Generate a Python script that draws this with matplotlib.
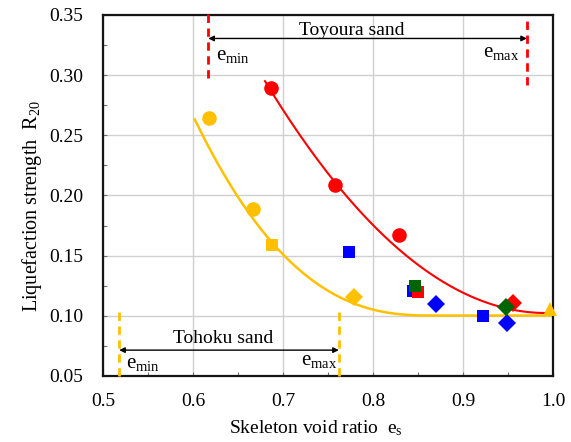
import numpy as np
import matplotlib
matplotlib.use("Agg")
import matplotlib.pyplot as plt
from matplotlib.ticker import MultipleLocator

plt.rcParams['font.family'] = ['Liberation Serif', 'DejaVu Serif']
plt.rcParams['mathtext.fontset'] = 'custom'
plt.rcParams['mathtext.rm'] = 'Liberation Serif'
plt.rcParams['mathtext.it'] = 'Liberation Serif:italic'

# ---------------- data ----------------
# Toyoura sand (red)
red_circle_e = [0.687, 0.758, 0.829]
red_circle_r = [0.289, 0.209, 0.167]
red_square_e = [0.850]
red_square_r = [0.120]
red_diamond_e = [0.956]
red_diamond_r = [0.111]
# green
green_square_e = [0.847]
green_square_r = [0.125]
green_diamond_e = [0.948]
green_diamond_r = [0.107]
# blue
blue_square_e = [0.773, 0.844, 0.922]
blue_square_r = [0.153, 0.121, 0.100]
blue_diamond_e = [0.870, 0.949]
blue_diamond_r = [0.110, 0.094]
# Tohoku sand (orange)
orange_circle_e = [0.618, 0.667]
orange_circle_r = [0.264, 0.189]
orange_square_e = [0.688]
orange_square_r = [0.159]
orange_diamond_e = [0.779]
orange_diamond_r = [0.116]
orange_triangle_e = [0.997]
orange_triangle_r = [0.106]

# trend curves
red_curve_e = [0.680, 0.733, 0.758, 0.808, 0.817, 0.863, 0.900, 0.938, 0.974, 1.000]
red_curve_r = [0.295, 0.236, 0.209, 0.171, 0.163, 0.136, 0.119, 0.107, 0.103, 0.103]
orange_curve_e = [0.602, 0.697, 0.708, 0.733, 0.752, 0.771, 0.800, 0.844, 0.900, 1.000]
orange_curve_r = [0.263, 0.155, 0.146, 0.127, 0.119, 0.112, 0.107, 0.102, 0.100, 0.099]

toyoura_emin, toyoura_emax = 0.617, 0.971
tohoku_emin, tohoku_emax = 0.518, 0.762

RED = '#FF0000'
ORANGE = '#FFC000'
BLUE = '#0000FF'
GREEN = '#006400'

fig = plt.figure(figsize=(5.71, 4.42), dpi=100)
ax = fig.add_axes([103/571, 1-376/442, 450/571, 361/442])

ax.set_xlim(0.5, 1.0)
ax.set_ylim(0.05, 0.35)
ax.xaxis.set_major_locator(MultipleLocator(0.1))
ax.xaxis.set_minor_locator(MultipleLocator(0.05))
ax.yaxis.set_major_locator(MultipleLocator(0.05))
ax.yaxis.set_minor_locator(MultipleLocator(0.025))
ax.xaxis.set_major_formatter(plt.FuncFormatter(lambda v, p: f"{v:.1f}"))
ax.yaxis.set_major_formatter(plt.FuncFormatter(lambda v, p: f"{v:.2f}"))
ax.grid(True, which='major', color='#d0d0d0', lw=1.0)
ax.set_axisbelow(True)
ax.tick_params(which='both', direction='in', colors='#707070', labelcolor='black',
               labelsize=14, length=3, width=0.8)
ax.tick_params(axis='x', which='major', pad=12.5)
ax.tick_params(axis='y', which='major', pad=14)
for s in ax.spines.values():
    s.set_linewidth(1.6)
    s.set_color('#151515')

# red trend: quadratic fit
ex = np.linspace(min(red_curve_e), 1.0, 200)
pr = np.polyfit(red_curve_e, red_curve_r, 2)
ax.plot(ex, np.polyval(pr, ex), color=RED, lw=1.5, zorder=2)

# orange trend: floor + power decay fit, parameters found by least squares
oe = np.asarray(orange_curve_e)
orr = np.asarray(orange_curve_r)
best = None
for e0 in np.linspace(0.80, 1.10, 61):
    for n in np.linspace(1.5, 5.0, 71):
        X = np.column_stack([np.ones_like(oe), np.clip(e0 - oe, 0, None) ** n])
        coef, *_ = np.linalg.lstsq(X, orr, rcond=None)
        err = np.sum((X @ coef - orr) ** 2)
        if best is None or err < best[0]:
            best = (err, e0, n, coef)
_, e0, n, coef = best
eo = np.linspace(min(orange_curve_e), 1.0, 300)
ax.plot(eo, coef[0] + coef[1] * np.clip(e0 - eo, 0, None) ** n, color=ORANGE, lw=1.8, zorder=2)

kw = dict(linestyle='none', zorder=3, markeredgewidth=0)
ax.plot(blue_square_e, blue_square_r, 's', color=BLUE, ms=9, **kw)
ax.plot(blue_diamond_e, blue_diamond_r, 'D', color=BLUE, ms=9.5, **kw)
ax.plot(red_circle_e, red_circle_r, 'o', color=RED, ms=10.5, **kw)
ax.plot(red_square_e, red_square_r, 's', color=RED, ms=9, **kw)
ax.plot(red_diamond_e, red_diamond_r, 'D', color=RED, ms=9.5, **kw)
ax.plot(green_square_e, green_square_r, 's', color=GREEN, ms=9, **kw)
ax.plot(green_diamond_e, green_diamond_r, 'D', color=GREEN, ms=9.5, **kw)
ax.plot(orange_circle_e, orange_circle_r, 'o', color=ORANGE, ms=10.5, **kw)
ax.plot(orange_square_e, orange_square_r, 's', color=ORANGE, ms=9, **kw)
ax.plot(orange_diamond_e, orange_diamond_r, 'D', color=ORANGE, ms=9.5, **kw)
ax.plot(orange_triangle_e, orange_triangle_r, '^', color=ORANGE, ms=10.5, clip_on=False, **kw)

# Toyoura annotation
dash = dict(lw=2.0, linestyle=(0, (3, 2)), clip_on=False, zorder=4)
ax.plot([toyoura_emin, toyoura_emin], [0.298, 0.352], color=RED, **dash)
ax.plot([toyoura_emax, toyoura_emax], [0.292, 0.346], color=RED, **dash)
ax.annotate('', xy=(toyoura_emin, 0.3305), xytext=(toyoura_emax, 0.3305),
            arrowprops=dict(arrowstyle='<|-|>', color='black', lw=1.0,
                            mutation_scale=8, shrinkA=0, shrinkB=0), zorder=4)
ax.text(0.776, 0.3375, 'Toyoura sand', ha='center', va='center', fontsize=14)
ax.text(0.6255, 0.316, r'$\mathrm{e_{min}}$', ha='left', va='center', fontsize=15)
ax.text(0.9625, 0.319, r'$\mathrm{e_{max}}$', ha='right', va='center', fontsize=15)

# Tohoku annotation
ax.plot([tohoku_emin, tohoku_emin], [0.050, 0.107], color=ORANGE, **dash)
ax.plot([tohoku_emax, tohoku_emax], [0.050, 0.103], color=ORANGE, **dash)
ax.annotate('', xy=(tohoku_emin, 0.0715), xytext=(tohoku_emax, 0.0715),
            arrowprops=dict(arrowstyle='<|-|>', color='black', lw=1.0,
                            mutation_scale=8, shrinkA=0, shrinkB=0), zorder=4)
ax.text(0.634, 0.0815, 'Tohoku sand', ha='center', va='center', fontsize=14)
ax.text(0.5255, 0.0605, r'$\mathrm{e_{min}}$', ha='left', va='center', fontsize=15)
ax.text(0.7605, 0.0625, r'$\mathrm{e_{max}}$', ha='right', va='center', fontsize=15)

ax.set_xlabel(r'Skeleton void ratio  $\mathrm{e_s}$', fontsize=14, labelpad=6)
ax.set_ylabel(r'Liquefaction strength  $\mathrm{R_{20}}$', fontsize=14.5, labelpad=4)
ax.xaxis.label.set_x(0.473)
ax.yaxis.label.set_y(0.471)

fig.savefig('out.png', dpi=100)
